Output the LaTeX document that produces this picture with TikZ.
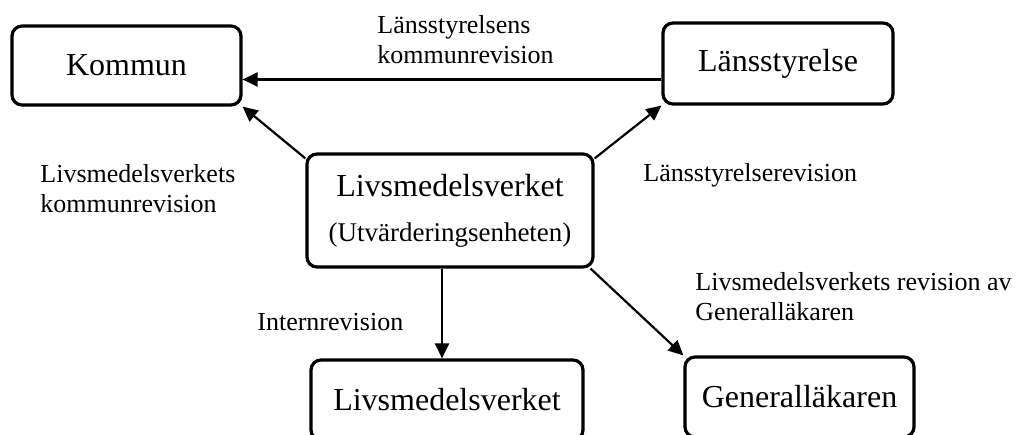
\documentclass[tikz,border=0pt]{standalone}
\usepackage{fontspec}
\setmainfont{Liberation Serif}
\usepackage{tikz}
\usetikzlibrary{arrows.meta,positioning}

\begin{document}
\begin{tikzpicture}[x=0.5pt, y=-0.5pt,
    box/.style={draw, rectangle, rounded corners=5pt, line width=1.6pt, align=center, font=\fontsize{16}{22.5}\selectfont},
    lbl/.style={anchor=west, align=left, inner sep=0pt, font=\fontsize{13}{15}\selectfont},
    >={Triangle[length=7.5pt, width=7pt]}]
    \useasboundingbox (0,0) rectangle (1017,434);

    \node[box, minimum width=114.5pt, minimum height=39.5pt] (kommun) at (126.5,65.5) {Kommun};
    \node[box, minimum width=115pt, minimum height=40.5pt] (lans) at (778,63.5) {Länsstyrelse};
    \node[box, minimum width=143pt, minimum height=56.5pt] (lvc) at (450,210.5) {Livsmedelsverket\\{\fontsize{13.5}{16}\selectfont (Utvärderingsenheten)}};
    \node[box, minimum width=136pt, minimum height=40pt] (lvb) at (447,400) {Livsmedelsverket};
    \node[box, minimum width=114.5pt, minimum height=40pt] (gen) at (799.5,397) {Generalläkaren};

    \node[lbl] (lanskom) at (377,40) {Länsstyrelsens\\kommunrevision};
    \node[lbl] (lvkom) at (40,189) {Livsmedelsverkets\\kommunrevision};
    \node[lbl] (lansrev) at (643,175) {Länsstyrelserevision};
    \node[lbl] (genrev) at (695,297) {Livsmedelsverkets revision av\\Generalläkaren};
    \node[lbl] (intern) at (257,322) {Internrevision};

    \draw[->, line width=1.1pt] ([yshift=-8pt]lans.west) -- ([yshift=-8pt]lans.west -| kommun.east);
    \draw[->, line width=1.1pt] ([yshift=-3pt]lvc.north west) -- (kommun.south east);
    \draw[->, line width=1.1pt] ([yshift=-3pt]lvc.north east) -- (lans.south west);
    \draw[->, line width=1.1pt] ([xshift=-4pt]lvc.south) -- ([xshift=-4pt]lvc.south |- lvb.north);
    \draw[->, line width=1.1pt] ([xshift=-2pt]lvc.south east) -- (gen.north west);
\end{tikzpicture}
\end{document}
